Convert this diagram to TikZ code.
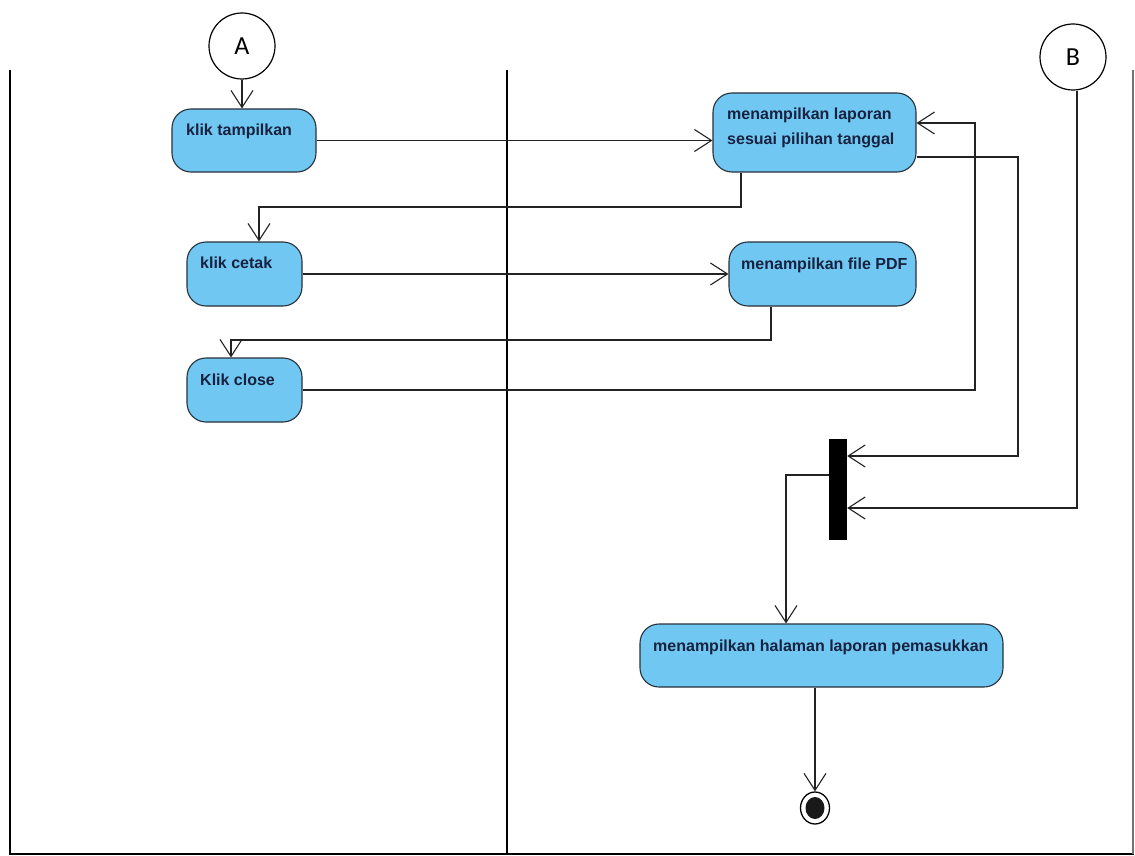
\documentclass[tikz,border=0pt]{standalone}
\usepackage{fontspec}
\setmainfont{Liberation Sans}
\newfontfamily\connfont{Carlito}
\usetikzlibrary{arrows.meta,calc,shapes.geometric}
\definecolor{actblue}{RGB}{112,200,242}
\definecolor{actedge}{RGB}{40,48,58}
\definecolor{acttext}{RGB}{24,34,64}
\definecolor{flowline}{RGB}{35,35,35}
\tikzset{
  actbox/.style={draw=actedge, fill=actblue, line width=1.1pt, rounded corners=19pt, inner sep=0pt},
  acttxt/.style={text=acttext, font=\bfseries\fontsize{16}{25}\selectfont, inner sep=0pt, anchor=west, align=left},
  conn/.style={draw=black, line width=1.2pt, minimum size=66pt, inner sep=0pt, circle, font=\connfont\fontsize{26}{30}\selectfont},
  flow/.style={draw=flowline, line width=1.1pt},
  arr/.style={flow, -{Straight Barb[length=17pt,width=22pt,line width=1.1pt]}},
  lane/.style={draw=black, line width=2.4pt},
}
\begin{document}
\begin{tikzpicture}[x=1pt,y=-1pt]
\useasboundingbox (0,0) rectangle (1135,856);
\fill[white] (0,0) rectangle (1135,856);

% swimlane frame
\draw[lane] (10,70) -- (10,854) -- (1134,854);
\draw[lane] (507,70) -- (507,854);
\draw[draw=black!55, line width=1.2pt] (1133,70) -- (1133,854);

% connectors to other pages
\node[conn] (A) at (242,46) {A};
\node[conn] (B) at (1073,57) {B};

% actions
\node[actbox, minimum width=144pt, minimum height=63pt] (b1) at (244,140.5) {};
\node[acttxt] (t1) at (186,131) {klik tampilkan};

\node[actbox, minimum width=203pt, minimum height=79pt] (b2) at (814.5,132.5) {};
\node[acttxt] (t2) at (727,127.5) {menampilkan laporan\\sesuai pilihan tanggal};

\node[actbox, minimum width=115pt, minimum height=64pt] (b3) at (244.5,274) {};
\node[acttxt] (t3) at (200,263) {klik cetak};

\node[actbox, minimum width=187pt, minimum height=64pt] (b4) at (822.5,274) {};
\node[acttxt] (t4) at (741,265) {menampilkan file PDF};

\node[actbox, minimum width=115pt, minimum height=64pt] (b5) at (244.5,390) {};
\node[acttxt] (t5) at (200,380) {Klik close};

\node[actbox, minimum width=363pt, minimum height=63pt] (b6) at (821.5,655.5) {};
\node[acttxt] (t6) at (653,647) {menampilkan halaman laporan pemasukkan};

% join bar and final node
\node[fill=black, minimum width=18pt, minimum height=101pt, inner sep=0pt] (bar) at (838,489.5) {};
\node[ellipse, draw=black, line width=1.3pt, minimum width=29pt, minimum height=32pt, inner sep=0pt] (final) at (815,808) {};
\node[ellipse, fill=black!90, minimum width=19pt, minimum height=22pt, inner sep=0pt] (finalin) at (final.center) {};

% bend points
\coordinate (p1) at (741,207);
\coordinate (p2) at (771,340);
\coordinate (p3) at (975,123);
\coordinate (p4) at (1018,456);
\coordinate (p5) at (1077,508);
\coordinate (p6) at (786,475);

% flows
\draw[arr] (A.south) -- (A.south |- b1.north);
\draw[arr] (b1.east) -- (b1.east -| b2.west);
\draw[arr] (p1 |- b2.south) -- (p1) -| ($(b3.north)+(14.5,0)$);
\draw[arr] (b3.east) -- (b3.east -| b4.west);
\draw[arr] (p2 |- b4.south) -- (p2) -| ($(b5.north)+(-13.5,0)$);
\draw[arr] (b5.east) -| (p3) -- (p3 -| b2.east);
\draw[arr] ($(b2.east)+(0,24.5)$) -| (p4) -- (p4 -| bar.east);
\draw[arr] (p5 |- B.south) -- (p5) -- (p5 -| bar.east);
\draw[arr] (p6 -| bar.west) -- (p6) -- (p6 |- b6.north);
\draw[arr] (final |- b6.south) -- (final.north);
\end{tikzpicture}
\end{document}
